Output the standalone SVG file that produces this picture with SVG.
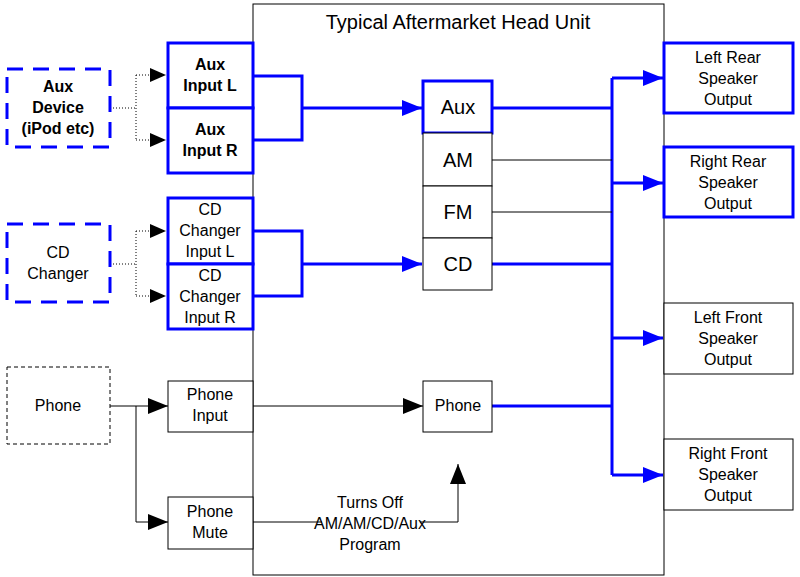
<svg xmlns="http://www.w3.org/2000/svg" width="800" height="577" viewBox="0 0 800 577">
<defs>
<marker id="a" markerWidth="20" markerHeight="16" refX="20" refY="8" orient="auto" markerUnits="userSpaceOnUse"><path d="M0,0L20,8L0,16Z" fill="#000"/></marker>
<marker id="b" markerWidth="20" markerHeight="16" refX="20" refY="8" orient="auto" markerUnits="userSpaceOnUse"><path d="M0,0L20,8L0,16Z" fill="#0000ff"/></marker>
<marker id="s" markerWidth="16" markerHeight="14" refX="16" refY="7" orient="auto" markerUnits="userSpaceOnUse"><path d="M0,0L16,7L0,14Z" fill="#000"/></marker>
<style>
text{font-family:"Liberation Sans",Arial,sans-serif;font-size:16px;text-anchor:middle;fill:#000}
.bx{fill:#fff;stroke:#000;stroke-width:1}
.bb{fill:#fff;stroke:#0000ff;stroke-width:3}
.bd{fill:#fff;stroke:#0000ff;stroke-width:3;stroke-dasharray:16,10}
.kd{fill:#fff;stroke:#000;stroke-width:1;stroke-dasharray:4,3}
.bl{fill:none;stroke:#0000ff;stroke-width:3}
.tl{fill:none;stroke:#000;stroke-width:1}
.dt{fill:none;stroke:#000;stroke-width:1;stroke-dasharray:1,2}
.bold{font-weight:bold}
</style>
</defs>
<rect width="800" height="577" fill="#fff"/>
<g id="headunit"><rect class="bx" x="253" y="4" width="411" height="571"/><text x="458" y="29" style="font-size:20px">Typical Aftermarket Head Unit</text></g>
<g id="connectors">
<path class="dt" d="M110,108H136M136,75V140"/>
<path class="dt" d="M136,75H166" marker-end="url(#s)"/><path class="dt" d="M136,140H166" marker-end="url(#s)"/>
<path class="dt" d="M110,264H136M136,231V296"/>
<path class="dt" d="M136,231H166" marker-end="url(#s)"/><path class="dt" d="M136,296H166" marker-end="url(#s)"/>
<path class="bl" d="M253,76H302V140H253"/><path class="bl" d="M302,108H422" marker-end="url(#b)"/>
<path class="bl" d="M253,231H302V296H253"/><path class="bl" d="M302,264H422" marker-end="url(#b)"/>
<path class="bl" d="M492,108H612M612,78V475M492,264H612M492,406H612"/>
<path class="bl" d="M612,78H663" marker-end="url(#b)"/><path class="bl" d="M612,183H663" marker-end="url(#b)"/>
<path class="bl" d="M612,338H663" marker-end="url(#b)"/><path class="bl" d="M612,475H663" marker-end="url(#b)"/>
<path class="tl" d="M492,160H612M492,212H612"/>
<path class="tl" d="M110,406H168" marker-end="url(#a)"/><path class="tl" d="M136,406V522H168" marker-end="url(#a)"/>
<path class="tl" d="M253,406H423" marker-end="url(#a)"/>
<path class="tl" d="M253,522H458V464" marker-end="url(#a)"/>
<rect x="322" y="490" width="98" height="64" fill="#fff"/>
<text x="370" y="508">Turns Off</text><text x="370" y="529">AM/AM/CD/Aux</text><text x="370" y="550">Program</text>
</g>
<g id="auxdev"><rect class="bd" x="7" y="69" width="103" height="78"/><text class="bold" x="58" y="92">Aux</text><text class="bold" x="58" y="113">Device</text><text class="bold" x="58" y="134">(iPod etc)</text></g>
<g id="auxL"><rect class="bb" x="168" y="43" width="85" height="65"/><text class="bold" x="210" y="70">Aux</text><text class="bold" x="210" y="91">Input L</text></g>
<g id="auxR"><rect class="bb" x="168" y="108" width="85" height="65"/><text class="bold" x="210" y="135">Aux</text><text class="bold" x="210" y="156">Input R</text></g>
<g id="cdc"><rect class="bd" x="7" y="224" width="103" height="78"/><text x="58" y="258">CD</text><text x="58" y="279">Changer</text></g>
<g id="cdL"><rect class="bb" x="168" y="198" width="85" height="66"/><text x="210" y="215">CD</text><text x="210" y="236">Changer</text><text x="210" y="257">Input L</text></g>
<g id="cdR"><rect class="bb" x="168" y="264" width="85" height="65"/><text x="210" y="281">CD</text><text x="210" y="302">Changer</text><text x="210" y="323">Input R</text></g>
<g id="phone"><rect class="kd" x="7" y="367" width="103" height="77"/><text x="58" y="411">Phone</text></g>
<g id="phoneIn"><rect class="bx" x="168" y="381" width="85" height="51"/><text x="210" y="400">Phone</text><text x="210" y="421">Input</text></g>
<g id="phoneMute"><rect class="bx" x="168" y="497" width="85" height="52"/><text x="210" y="517">Phone</text><text x="210" y="538">Mute</text></g>
<g id="aux"><rect class="bb" x="423" y="81" width="69" height="52"/><text x="458" y="114" style="font-size:20px">Aux</text></g>
<g id="am"><rect class="bx" x="423" y="133" width="69" height="53"/><text x="458" y="167" style="font-size:20px">AM</text></g>
<g id="fm"><rect class="bx" x="423" y="186" width="69" height="52"/><text x="458" y="219" style="font-size:20px">FM</text></g>
<g id="cd"><rect class="bx" x="423" y="238" width="69" height="52"/><text x="458" y="271" style="font-size:20px">CD</text></g>
<g id="ph"><rect class="bx" x="423" y="381" width="69" height="51"/><text x="458" y="411">Phone</text></g>
<g id="lr"><rect class="bb" x="664" y="43" width="129" height="70"/><text x="728" y="63">Left Rear</text><text x="728" y="84">Speaker</text><text x="728" y="105">Output</text></g>
<g id="rr"><rect class="bb" x="664" y="147" width="129" height="70"/><text x="728" y="167">Right Rear</text><text x="728" y="188">Speaker</text><text x="728" y="209">Output</text></g>
<g id="lf"><rect class="bx" x="664" y="303" width="129" height="71"/><text x="728" y="323">Left Front</text><text x="728" y="344">Speaker</text><text x="728" y="365">Output</text></g>
<g id="rf"><rect class="bx" x="664" y="439" width="129" height="71"/><text x="728" y="459">Right Front</text><text x="728" y="480">Speaker</text><text x="728" y="501">Output</text></g>
</svg>
